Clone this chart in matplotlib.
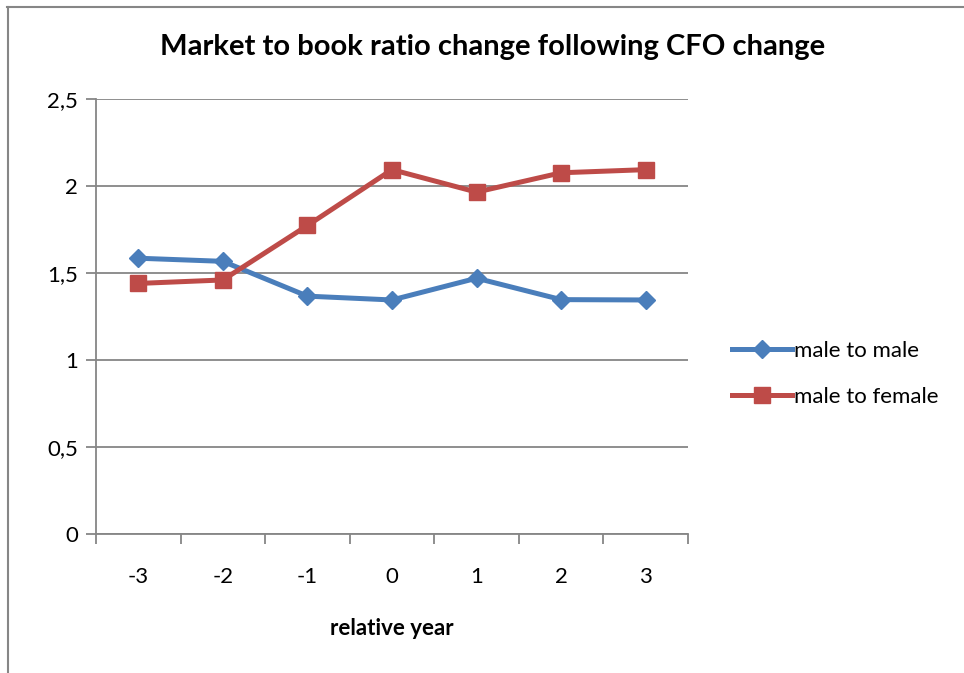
import numpy as np
import matplotlib
matplotlib.use("Agg")
from matplotlib import pyplot as plt
from matplotlib.lines import Line2D

plt.rcParams['font.family'] = ['Lato', 'DejaVu Sans']

years = ['-3', '-2', '-1', '0', '1', '2', '3']
male_to_male = [1.585, 1.567, 1.367, 1.345, 1.47, 1.347, 1.345]
male_to_female = [1.44, 1.46, 1.773, 2.094, 1.965, 2.076, 2.094]

blue = '#4A7EBB'
red = '#BE4B48'
grey = '#868686'

fig = plt.figure(figsize=(9.64, 6.73), dpi=100)
ax = fig.add_axes([96/964, 1-534/673, (688-96)/964, (534-99)/673])

x = np.arange(len(years))
ax.plot(x, male_to_male, color=blue, lw=3.6, marker='D', ms=9, label='male to male', zorder=3)
ax.plot(x, male_to_female, color=red, lw=3.6, marker='s', ms=11.5, label='male to female', zorder=3)

ax.set_xlim(-0.5, 6.5)
ax.set_ylim(0, 2.5)
yt = [0, 0.5, 1, 1.5, 2, 2.5]
ax.set_yticks(yt)
ax.set_yticklabels(['0', '0,5', '1', '1,5', '2', '2,5'])
ax.yaxis.grid(True, color=grey, lw=1.3)
ax.set_axisbelow(True)

ax.set_xticks(np.arange(-0.5, 7, 1))
ax.set_xticklabels([])
ax.set_xticks(x, minor=True)
ax.set_xticklabels(years, minor=True)
ax.tick_params(axis='x', which='minor', length=0, pad=24, labelsize=16)
ax.tick_params(axis='x', which='major', length=7, width=1.3, color=grey)
ax.tick_params(axis='y', length=7, width=1.3, color=grey, labelsize=16, pad=6)

for s in ['top', 'right']:
    ax.spines[s].set_visible(False)
for s in ['left', 'bottom']:
    ax.spines[s].set_color(grey)
    ax.spines[s].set_linewidth(1.3)

ax.set_xlabel('relative year', fontsize=16, fontweight='bold', labelpad=22)
fig.text(493/964, 1-47/673, 'Market to book ratio change following CFO change',
         ha='center', va='center', fontsize=21, fontweight='bold')

fig.legend(loc='center left', bbox_to_anchor=(712/964, 1-374/673), frameon=False,
           fontsize=16, handlelength=2.7, handletextpad=0.1, labelspacing=1.15)

# chart frame
fig.add_artist(Line2D([7/964, 1], [1-6.5/673, 1-6.5/673], color=grey, lw=1.5, transform=fig.transFigure))
fig.add_artist(Line2D([7.5/964, 7.5/964], [0, 1-6.5/673], color=grey, lw=1.5, transform=fig.transFigure))

fig.savefig('out.png', dpi=100)
